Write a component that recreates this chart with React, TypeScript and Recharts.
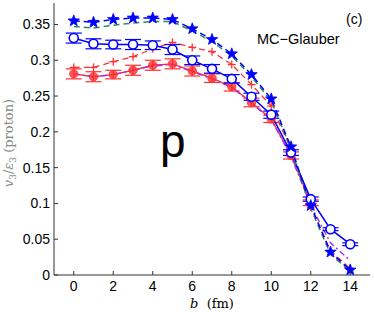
import React from 'react';
import { ComposedChart, Line, XAxis, YAxis, ErrorBar } from 'recharts';

const bValues = [0, 1, 2, 3, 4, 5, 6, 7, 8, 9, 10, 11, 12, 13, 14];
const starSeries = [0.355, 0.353, 0.357, 0.359, 0.359, 0.357, 0.344, 0.329, 0.309, 0.280, 0.246, 0.179, 0.097, 0.032, 0.007];
const greenSeries = [0.347, 0.345, 0.349, 0.352, 0.354, 0.354, 0.341, 0.326, 0.306, 0.277, 0.243, 0.176, 0.093, 0.029, 0.005];
const circleSeries = [0.331, 0.323, 0.322, 0.322, 0.321, 0.315, 0.300, 0.288, 0.274, 0.249, 0.224, 0.171, 0.106, 0.064, 0.043];
const circleErr = [0.007, 0.007, 0.006, 0.007, 0.006, 0.007, 0.006, 0.006, 0.006, 0.005, 0.005, 0.004, 0.003, 0.002, 0.002];
const plusSeries = [0.290, 0.290, 0.298, 0.305, 0.316, 0.325, 0.318, 0.312, 0.294, 0.266, 0.236, 0.176, 0.095, 0.034, 0.009];
const redSeries: (number | null)[] = [0.281, 0.277, 0.280, 0.286, 0.293, 0.295, 0.285, 0.275, 0.263, 0.241, 0.218, 0.167, 0.101, null, null];
const redErr = [0.007, 0.007, 0.006, 0.007, 0.007, 0.007, 0.007, 0.006, 0.006, 0.006, 0.005, 0.005, 0.004, 0, 0];
const purpleSeries = [0.281, 0.277, 0.280, 0.286, 0.292, 0.294, 0.284, 0.274, 0.262, 0.240, 0.217, 0.166, 0.097, 0.045, 0.020];
const xTicks = [0, 2, 4, 6, 8, 10, 12, 14];
const yTicks = [0, 0.05, 0.1, 0.15, 0.2, 0.25, 0.3, 0.35];

const data = bValues.map((b, i) => ({
  b,
  star: starSeries[i],
  green: greenSeries[i],
  circ: circleSeries[i],
  circErr: circleErr[i],
  plus: plusSeries[i],
  red: redSeries[i],
  redErr: redErr[i],
  purple: purpleSeries[i],
}));

const BLUE = '#0000ff';
const RED = '#ff3030';
const GREEN = '#2e8b57';
const PURPLE = '#9b30ff';
const AXIS = '#333333';
const FONT = '"Liberation Sans", Arial, Helvetica, sans-serif';
const SERIF = '"DejaVu Serif", "Liberation Serif", serif';

const fmt = (v: number) => String(Number(v.toFixed(2)));

const BottomTick = (props: any) => {
  const { x, y, payload } = props;
  return (
    <g>
      <line x1={x} y1={y} x2={x} y2={y - 4} stroke={AXIS} strokeWidth={1} />
      <text x={x} y={y + 16} textAnchor="middle" fontSize={14} fontFamily={FONT} fill="#000">{fmt(payload.value)}</text>
    </g>
  );
};
const TopTick = (props: any) => {
  const { x, y } = props;
  return <line x1={x} y1={y} x2={x} y2={y + 4} stroke={AXIS} strokeWidth={1} />;
};
const LeftTick = (props: any) => {
  const { x, y, payload } = props;
  return (
    <g>
      <line x1={x} y1={y} x2={x + 4} y2={y} stroke={AXIS} strokeWidth={1} />
      <text x={x - 4} y={y + 5} textAnchor="end" fontSize={14} fontFamily={FONT} fill="#000">{fmt(payload.value)}</text>
    </g>
  );
};
const RightTick = (props: any) => {
  const { x, y } = props;
  return <line x1={x} y1={y} x2={x - 4} y2={y} stroke={AXIS} strokeWidth={1} />;
};

const StarDot = (props: any) => {
  const { cx, cy } = props;
  if (cx == null || cy == null) return null;
  const pts: string[] = [];
  for (let k = 0; k < 10; k++) {
    const r = k % 2 === 0 ? 6 : 2.5;
    const a = -Math.PI / 2 + (k * Math.PI) / 5;
    pts.push(`${cx + r * Math.cos(a)},${cy + r * Math.sin(a)}`);
  }
  return <polygon points={pts.join(' ')} fill={BLUE} stroke={BLUE} strokeWidth={0.8} />;
};
const PlusDot = (props: any) => {
  const { cx, cy } = props;
  if (cx == null || cy == null) return null;
  return (
    <g stroke={RED} strokeWidth={1.3}>
      <line x1={cx - 4} y1={cy} x2={cx + 4} y2={cy} />
      <line x1={cx} y1={cy - 4} x2={cx} y2={cy + 4} />
    </g>
  );
};
const OpenCircle = (props: any) => {
  const { cx, cy } = props;
  if (cx == null || cy == null) return null;
  return <circle cx={cx} cy={cy} r={4.5} fill="#fff" stroke={BLUE} strokeWidth={1.6} />;
};
const RedDot = (props: any) => {
  const { cx, cy } = props;
  if (cx == null || cy == null) return null;
  return <circle cx={cx} cy={cy} r={4.2} fill={RED} fillOpacity={0.8} stroke={RED} strokeOpacity={0.8} strokeWidth={1} />;
};

export default function App() {
  return (
    <div style={{ position: 'absolute', left: 0, top: 0, width: 374, height: 312, background: '#fff' }}>
      <ComposedChart width={374} height={312} data={data} margin={{ top: 3, right: 4, bottom: 0, left: 0 }}>
        <XAxis xAxisId="b" dataKey="b" type="number" domain={[-1, 15]} ticks={xTicks} height={37}
          tickSize={0} tickMargin={0} tick={<BottomTick />} axisLine={{ stroke: AXIS }} interval={0} allowDataOverflow />
        <XAxis xAxisId="top" orientation="top" dataKey="b" type="number" domain={[-1, 15]} ticks={xTicks} height={0}
          tickSize={0} tickMargin={0} tick={<TopTick />} axisLine={{ stroke: AXIS }} interval={0} allowDataOverflow />
        <YAxis yAxisId="v" type="number" domain={[0, 0.38]} ticks={yTicks} width={54}
          tickSize={0} tickMargin={0} tick={<LeftTick />} axisLine={{ stroke: AXIS }} interval={0} allowDataOverflow />
        <YAxis yAxisId="right" orientation="right" type="number" domain={[0, 0.38]} ticks={yTicks} width={0}
          tickSize={0} tickMargin={0} tick={<RightTick />} axisLine={{ stroke: AXIS }} interval={0} allowDataOverflow />

        <Line xAxisId="b" yAxisId="v" dataKey="red" stroke={RED} strokeWidth={1.4} dot={<RedDot />} isAnimationActive={false} connectNulls={false}>
          <ErrorBar dataKey="redErr" width={8} stroke={RED} strokeWidth={1.2} direction="y" isAnimationActive={false} />
        </Line>
        <Line xAxisId="b" yAxisId="v" dataKey="purple" stroke={PURPLE} strokeWidth={1.4} strokeDasharray="6 3 2 3" dot={false} isAnimationActive={false} />
        <Line xAxisId="b" yAxisId="v" dataKey="plus" stroke={RED} strokeWidth={1.3} strokeDasharray="6 4" dot={<PlusDot />} isAnimationActive={false} />
        <Line xAxisId="b" yAxisId="v" dataKey="circ" stroke={BLUE} strokeWidth={1.5} dot={<OpenCircle />} isAnimationActive={false}>
          <ErrorBar dataKey="circErr" width={8} stroke={BLUE} strokeWidth={1.2} direction="y" isAnimationActive={false} />
        </Line>
        <Line xAxisId="b" yAxisId="v" dataKey="green" stroke={GREEN} strokeWidth={1.5} strokeDasharray="6 4" dot={false} isAnimationActive={false} />
        <Line xAxisId="b" yAxisId="v" dataKey="star" stroke={BLUE} strokeWidth={1.5} strokeDasharray="6 4" dot={<StarDot />} isAnimationActive={false} />
      </ComposedChart>
      <svg width={374} height={312} style={{ position: 'absolute', left: 0, top: 0, pointerEvents: 'none' }}>
        <text x={346} y={24} fontSize={14} fontFamily={FONT} fill="#000">(c)</text>
        <text x={257} y={44} fontSize={14.5} fontFamily={FONT} fill="#000">MC−Glauber</text>
        <text x={160} y={157} fontSize={46} fontFamily={FONT} fill="#000">p</text>
        <text x={212} y={308} textAnchor="middle" fontSize={13} fontFamily={SERIF} fill="#000">
          <tspan fontStyle="italic">b</tspan>
          <tspan>{'\u00a0\u00a0(fm)'}</tspan>
        </text>
        <text x={13} y={143} transform="rotate(-90, 13, 143)" textAnchor="middle" fontSize={13} fontFamily={SERIF} fill="#888">
          <tspan fontStyle="italic">v</tspan>
          <tspan fontSize={9} dy={3}>3</tspan>
          <tspan dy={-3}>/</tspan>
          <tspan fontStyle="italic">ε</tspan>
          <tspan fontSize={9} dy={3}>3</tspan>
          <tspan dy={-3}>{'\u00a0(proton)'}</tspan>
        </text>
      </svg>
    </div>
  );
}
